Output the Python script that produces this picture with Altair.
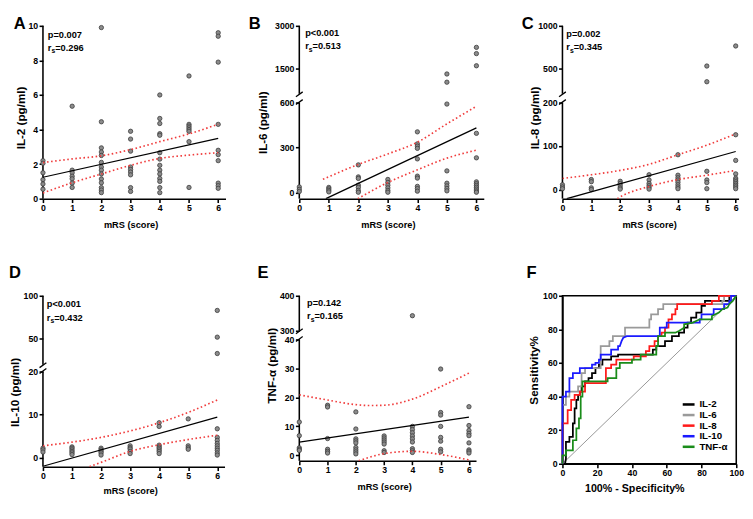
import altair as alt
import pandas as pd

FONT = "Liberation Sans"
BLACK = "#000000"
PT_FILL = "#8c8c8c"
PT_STROKE = "#3a3a3a"
CI_RED = "#f03c3c"

MRS_TICKS = [0, 1, 2, 3, 4, 5, 6]
X_TITLE = "mRS (score)"

# ---------------- Panel A : IL-2 ----------------
IL2_POINTS = {
    0: [2.2, 2.05, 1.5, 1.1, 0.85, 0.55],
    1: [5.35, 1.65, 1.5, 1.3, 1.15, 0.9, 0.65],
    2: [9.9, 4.45, 2.94, 2.7, 2.5, 2.1, 1.83, 1.65, 1.43, 1.14, 0.92, 0.64, 0.5, 0.35],
    3: [3.9, 3.45, 2.75, 1.83, 1.69, 1.54, 1.38, 0.64, 0.42],
    4: [6.0, 4.64, 4.35, 3.76, 3.67, 2.66, 2.29, 1.93, 1.65, 1.43, 1.17, 1.0, 0.64, 0.35],
    5: [7.1, 4.3, 4.2, 4.1, 4.0, 3.9, 3.3, 0.65],
    6: [9.6, 9.4, 7.9, 4.3, 2.8, 2.55, 2.2, 0.9, 0.75, 0.6],
}
IL2_TICKS = [0, 2, 4, 6, 8, 10]
IL2_FIT_X = [0, 6]
IL2_FIT_Y = [1.24, 3.49]
IL2_CI_X = [0, 1, 2, 3, 4, 5, 6]
IL2_CI_HI = [2.09, 2.3, 2.48, 2.84, 3.30, 3.75, 4.31]
IL2_CI_LO = [0.33, 0.92, 1.43, 1.93, 2.33, 2.52, 2.66]

# ---------------- Panel B : IL-6 ----------------
IL6_POINTS = {
    0: [38, 22, 8],
    1: [35, 25, 15, 5],
    2: [185, 105, 95, 50, 35, 15, 3],
    3: [88, 68, 50, 32, 15, 3],
    4: [405, 325, 310, 295, 225, 110, 97, 42, 27, 10],
    5: [1300, 1010, 590, 145, 63, 45, 28, 12],
    6: [2240, 2020, 1590, 395, 232, 72, 60, 48, 36, 24, 12, 3],
}
IL6_TICKS = [0, 300, 600, 1500, 3000]
IL6_FIT_X = [0.9, 6]
IL6_FIT_Y = [-40, 431]
IL6_CI_HI_X = [0.8, 2, 3, 4, 5, 6]
IL6_CI_HI = [89, 188, 258, 336, 458, 575]
IL6_CI_LO_X = [1.98, 3, 4, 5, 6]
IL6_CI_LO = [-40, 68, 152, 230, 283]

# ---------------- Panel C : IL-8 ----------------
IL8_POINTS = {
    0: [11, 6, 2],
    1: [23, 18, 4, 0],
    2: [19, 14, 9, 4, 1],
    3: [34, 22, 14, 9, 5, 1],
    4: [80, 33, 27, 22, 17, 11, 6, 2],
    5: [527, 342, 42, 22, 16, 2],
    6: [763, 126, 67, 36, 26, 22, 18, 14, 10, 6, 2],
}
IL8_TICKS = [0, 100, 200, 500, 1000]
IL8_FIT_X = [0.15, 6]
IL8_FIT_Y = [-21, 87.5]
IL8_CI_HI_X = [0, 1, 2, 3, 4, 5, 6]
IL8_CI_HI = [25.5, 34, 44, 58, 80, 102, 128]
IL8_CI_LO_X = [1.9, 2, 3, 4, 5, 6]
IL8_CI_LO = [-21, -17, 7, 23, 33, 44]

# ---------------- Panel D : IL-10 ----------------
IL10_POINTS = {
    0: [2.2, 1.8, 1.3],
    1: [2.5, 2.2, 1.8, 1.45, 1.1, 0.7],
    2: [2.2, 1.8, 1.45, 1.1, 0.6],
    3: [2.75, 2.3, 2.0, 1.45, 0.95],
    4: [8.1, 7.25, 2.9, 2.5, 2.2, 1.8, 1.45, 0.95],
    5: [9.0, 2.75, 2.3, 1.95],
    6: [83, 52, 33, 6.7, 4.7, 4.0, 3.3, 2.75, 2.2, 1.7, 1.1, 0.6],
}
IL10_TICKS = [0, 10, 20, 50, 100]
IL10_FIT_X = [0, 6]
IL10_FIT_Y = [-2.0, 9.4]
IL10_CI_HI_X = [0, 1, 2, 3, 4, 5, 6]
IL10_CI_HI = [2.75, 3.6, 4.7, 6.2, 8.1, 10.5, 13.4]
IL10_CI_LO_X = [1.6, 2, 3, 4, 5, 6]
IL10_CI_LO = [-2.1, -1.1, 1.45, 3.0, 4.2, 5.2]

# ---------------- Panel E : TNF-alpha ----------------
TNF_POINTS = {
    0: [11.5, 6.8, 2.6, 2.1, 1.7],
    1: [17.3, 16.7, 5.8, 2.1, 1.4, 0.8],
    2: [15, 9.1, 5.7, 5.0, 4.3, 2.7, 1.9, 1.2, 0.5],
    3: [6.7, 6.0, 5.3, 4.6, 3.9, 1.6, 1.0],
    4: [343, 10, 8.9, 7.8, 6.7, 5.7, 4.6, 2.3, 1.6, 1.0],
    5: [29.8, 14.8, 13.9, 10, 6.2, 4.9, 2.1, 1.2],
    6: [16.8, 10.3, 8.6, 7.6, 6.8, 4.3, 1.9, 1.4, 0.8],
}
TNF_TICKS = [0, 10, 20, 30, 40, 300, 400]
TNF_FIT_X = [0, 6]
TNF_FIT_Y = [4.6, 13.2]
TNF_CI_HI_X = [0, 1, 2, 2.5, 3, 4, 5, 6]
TNF_CI_HI = [20.9, 19.1, 17.5, 17.2, 17.3, 19.4, 23.7, 28.4]
TNF_CI_LO_X = [2.1, 3, 4, 5, 6]
TNF_CI_LO = [-1.9, 0.6, 1.4, 0.3, -1.6]

# ---------------- Panel F : ROC curves ----------------
ROC_NAMES = ["IL-2", "IL-6", "IL-8", "IL-10", "TNF-α"]
ROC_COLORS = ["#000000", "#9a9a9a", "#ff1a1a", "#1a1aff", "#1a8c1a"]
IL2_ROC = [(0, 0), (1.5, 0), (2, 3), (2, 13), (4, 13), (4, 16), (6, 16), (6, 24), (7, 24), (7, 33),
           (8, 33), (8, 38), (9, 38), (9, 41), (10, 41), (10, 43), (11, 43), (11, 46), (13, 46),
           (13, 49), (15, 49), (15, 51), (17, 51), (17, 54), (19, 54), (19, 57), (21, 57), (21, 59),
           (23, 59), (23, 62), (28, 62), (28, 64), (32, 64), (32, 65), (52, 65), (52, 68), (54, 68),
           (54, 70), (59, 70), (59, 73), (63, 73), (63, 76), (67, 76), (67, 78), (70, 78), (70, 81),
           (72, 81), (72, 84), (74, 84), (74, 87), (77, 87), (77, 90), (80, 90), (80, 94), (82, 94),
           (82, 97), (96, 97), (96, 100), (100, 100)]
IL6_ROC = [(0, 0), (0, 35), (2, 35), (2, 40), (4, 40), (4, 43), (9, 43), (9, 46), (11, 46), (11, 54),
           (13, 54), (13, 57), (22, 57), (22, 70), (27, 70), (27, 73), (29, 73), (29, 76), (36, 76),
           (36, 81), (50, 81), (50, 86), (51, 86), (51, 89), (55, 89), (55, 92), (58, 92), (58, 95),
           (92, 95), (92, 97), (93, 97), (93, 100), (100, 100)]
IL8_ROC = [(0, 0), (0, 24), (3, 24), (3, 32), (5, 32), (5, 38), (7, 38), (7, 41), (10, 41), (10, 43),
           (13, 43), (13, 48), (25, 48), (25, 57), (28, 57), (28, 59), (31, 59), (31, 62), (41, 62),
           (41, 64), (48, 64), (48, 67), (50, 67), (50, 70), (53, 70), (53, 73), (55, 73), (55, 76),
           (57, 76), (57, 78), (59, 78), (59, 81), (61, 81), (61, 86), (63, 86), (63, 89), (65, 89),
           (65, 92), (66, 92), (66, 95), (86, 95), (86, 97), (90, 97), (90, 100), (100, 100)]
IL10_ROC = [(0, 0), (0, 40), (2, 40), (2, 43), (4, 43), (4, 51), (6, 51), (6, 54), (10, 54), (10, 57),
            (17, 57), (17, 59), (19, 59), (19, 60), (21, 60), (21, 62), (22, 62), (22, 65), (28, 65),
            (28, 68), (32, 68), (32, 70), (33, 70), (34, 73), (35, 75), (37, 76), (56, 76), (56, 81),
            (60, 81), (60, 84), (79, 84), (79, 86), (80, 86), (80, 89), (87, 89), (87, 92), (93, 92),
            (93, 95), (96, 95), (96, 97), (97, 97), (97, 100), (100, 100)]
TNF_ROC = [(0, 0), (0, 5), (2, 5), (2, 8), (6, 8), (6, 14), (8, 14), (8, 21), (9.5, 21), (9.5, 27),
           (10.5, 27), (10.5, 40), (11.5, 40), (11.5, 49), (26, 49), (26, 51), (31, 51), (31, 57),
           (33, 57), (33, 60), (40, 60), (40, 62), (45, 62), (45, 65), (54, 65), (54, 70), (55, 70),
           (55, 76), (59, 76), (59, 78), (65, 78), (67, 79), (70, 81), (70, 83), (75, 84), (79, 86),
           (86, 86), (86, 88), (90, 90), (92, 92), (95, 93), (96, 95), (98, 97), (100, 100)]
DIAG = [0, 100]
PCT_TICKS = [0, 20, 40, 60, 80, 100]

DUMMY = pd.DataFrame({"d0": [0]})


class BrokenScale:
    """Piecewise (broken) y axis: a lower segment and an optional upper one,
    mapped to a display coordinate measured in pixels from the bottom."""

    def __init__(self, lo, Hl, gap=0, up=None, Hu=0):
        self.lo, self.Hl, self.gap, self.up, self.Hu = lo, Hl, gap, up, Hu
        self.H = Hl + (gap + Hu if up else 0)

    def pos(self, v):
        l0, l1 = self.lo
        if self.up is None or v <= l1:
            return (v - l0) / (l1 - l0) * self.Hl
        u0, u1 = self.up
        return self.Hl + self.gap + (v - u0) / (u1 - u0) * self.Hu

    def expr(self):
        l0, l1 = self.lo
        lower = f"(datum.v - ({l0})) / {l1 - l0} * {self.Hl}"
        if self.up is None:
            return lower
        u0, u1 = self.up
        upper = f"{self.Hl + self.gap} + (datum.v - ({u0})) / {u1 - u0} * {self.Hu}"
        return f"datum.v <= {l1} ? {lower} : {upper}"

    def label_expr(self):
        l0, l1 = self.lo
        lower = f"format(({l0}) + datum.value / {self.Hl} * {l1 - l0}, 'd')"
        if self.up is None:
            return lower
        u0, u1 = self.up
        upper = f"format({u0} + (datum.value - {self.Hl + self.gap}) / {self.Hu} * {u1 - u0}, 'd')"
        return f"datum.value <= {self.Hl + 0.5} ? {lower} : {upper}"

    def segments(self):
        if self.up is None:
            return pd.DataFrame({"d": [0.0], "d2": [float(self.H)]})
        return pd.DataFrame({"d": [0.0, float(self.Hl + self.gap)],
                             "d2": [float(self.Hl), float(self.H)]})


def pts_df(points):
    rows = [(m, v) for m, vals in points.items() for v in vals]
    return pd.DataFrame(rows, columns=["m", "v"])


def line_df(xs, ys):
    return pd.DataFrame({"m": xs, "v": ys})


def x_enc(W, xmax, title_y):
    return alt.X("m:Q", scale=alt.Scale(domain=[0, xmax], nice=False, zero=False), axis=alt.Axis(
        values=MRS_TICKS, title=X_TITLE, titleFontSize=9.5, titleX=3 * W / xmax,
        titleY=title_y, titleBaseline="top", titleAlign="center", labelFlush=False,
        labelOverlap=False))


def y_enc(bs, ticks, title, tx, ty):
    return alt.Y("d:Q", scale=alt.Scale(domain=[0, bs.H], nice=False, zero=False),
                 axis=alt.Axis(values=[bs.pos(t) for t in ticks], labelExpr=bs.label_expr(),
                               domain=False, title=title, titleFontSize=12, titleX=tx,
                               titleY=ty, titleAngle=270, titleBaseline="bottom",
                               titleAlign="center", labelFlush=False, labelOverlap=False))


def txt(s, dx, dy, size=9.5, align="left", baseline="alphabetic"):
    return alt.Chart(DUMMY).mark_text(
        text=s, font=FONT, fontSize=size, fontWeight="bold", color=BLACK, align=align,
        baseline=baseline).encode(x=alt.value(dx), y=alt.value(dy))


def stats_layers(p, r, dx, y1, y2):
    return [txt(p, dx, y1), txt("r", dx, y2), txt("s", dx + 3.7, y2 + 2.5, size=7),
            txt("=" + r, dx + 7.6, y2)]


def letter(s, dx, dy):
    return txt(s, dx, dy, size=17, baseline="top")


def slash(x0, y0, x1, y1):
    return alt.Chart(DUMMY).mark_rule(color=BLACK, strokeWidth=1.3).encode(
        x=alt.value(x0), y=alt.value(y0), x2=alt.value(x1), y2=alt.value(y1))


def scatter_panel(points, W, xmax, bs, ticks, ytitle, tx, ty, fit, ci_hi, ci_lo, stats, let, xty):
    x = x_enc(W, xmax, xty)
    y = y_enc(bs, ticks, ytitle, tx, ty)
    e = bs.expr()
    layers = [
        alt.Chart(bs.segments()).mark_rule(color=BLACK, strokeWidth=1.6).encode(
            x=alt.value(0), y=y, y2="d2:Q"),
        alt.Chart(pts_df(points)).transform_calculate(d=e).mark_circle(
            size=20, fill=PT_FILL, stroke=PT_STROKE, strokeWidth=0.8, opacity=1).encode(x=x, y=y),
        alt.Chart(line_df(*fit)).transform_calculate(d=e).mark_line(
            color=BLACK, strokeWidth=1.3, clip=True).encode(x=x, y=y),
    ]
    for ci in (ci_hi, ci_lo):
        layers.append(alt.Chart(line_df(*ci)).transform_calculate(d=e).mark_line(
            color=CI_RED, strokeWidth=1.7, strokeDash=[1.6, 2.6], interpolate="monotone",
            clip=True).encode(x=x, y=y))
    layers += stats_layers(*stats)
    layers.append(letter(*let))
    if bs.up is not None:
        hu = bs.Hu
        layers.append(slash(-3.5, hu + 3, 3.5, hu - 2))
        layers.append(slash(-3.5, hu + bs.gap + 2, 3.5, hu + bs.gap - 3))
    return alt.layer(*layers).properties(width=W, height=bs.H)


def spacer(w):
    return alt.Chart(DUMMY).mark_point(opacity=0, size=1).encode(
        x=alt.value(0.5), y=alt.value(0.5)).properties(width=w, height=1)


panel_a = scatter_panel(
    IL2_POINTS, 188, 6.25, BrokenScale((0, 10), 178), IL2_TICKS, "IL-2 (pg/ml)", -16, 94.4,
    (IL2_FIT_X, IL2_FIT_Y), (IL2_CI_X, IL2_CI_HI), (IL2_CI_X, IL2_CI_LO),
    ("p=0.007", "0.296", 5, 12.7, 25.8), ("A", -30, -10), 21.4)

panel_b = scatter_panel(
    IL6_POINTS, 190, 6.25, BrokenScale((-40, 600), 99, 9, (600, 3000), 70), IL6_TICKS,
    "IL-6 (pg/ml)", -31, 99.3, (IL6_FIT_X, IL6_FIT_Y), (IL6_CI_HI_X, IL6_CI_HI),
    (IL6_CI_LO_X, IL6_CI_LO), ("p<0.001", "0.513", 6, 10, 24), ("B", -52, -10), 21.4)

panel_c = scatter_panel(
    IL8_POINTS, 181.4, 6.1, BrokenScale((-21, 200), 99, 9, (200, 1000), 70), IL8_TICKS,
    "IL-8 (pg/ml)", -22, 94.4, (IL8_FIT_X, IL8_FIT_Y), (IL8_CI_HI_X, IL8_CI_HI),
    (IL8_CI_LO_X, IL8_CI_LO), ("p=0.002", "0.345", 4, 11.2, 25), ("C", -42, -10), 21.4)

panel_d = scatter_panel(
    IL10_POINTS, 187, 6.25, BrokenScale((-2.1, 20), 98, 7, (20, 100), 71), IL10_TICKS,
    "IL-10 (pg/ml)", -22.5, 99, (IL10_FIT_X, IL10_FIT_Y), (IL10_CI_HI_X, IL10_CI_HI),
    (IL10_CI_LO_X, IL10_CI_LO), ("p<0.001", "0.432", 4, 11.2, 25.5), ("D", -35, -31), 19.5)

panel_e = scatter_panel(
    TNF_POINTS, 182, 6.25, BrokenScale((-1.9, 40), 125, 9, (300, 400), 36), TNF_TICKS,
    "TNF-α (pg/ml)", -22, 71.5, (TNF_FIT_X, TNF_FIT_Y), (TNF_CI_HI_X, TNF_CI_HI),
    (TNF_CI_LO_X, TNF_CI_LO), ("p=0.142", "0.165", 8, 10.7, 24.3), ("E", -43, -31), 21.5)

# ---- Panel F : ROC ----
WF, HF = 179, 173
roc_rows = []
for name, curve in zip(ROC_NAMES, [IL2_ROC, IL6_ROC, IL8_ROC, IL10_ROC, TNF_ROC]):
    for i, (fx_, fy_) in enumerate(curve):
        roc_rows.append({"curve": name, "i": i, "fpr": fx_, "tpr": fy_})
roc_df = pd.DataFrame(roc_rows)
color_scale = alt.Scale(domain=ROC_NAMES, range=ROC_COLORS)
fx = alt.X("fpr:Q", scale=alt.Scale(domain=[0, 100], nice=False), axis=alt.Axis(
    values=PCT_TICKS, title="100% - Specificity%", titleFontSize=11, titleX=74, titleY=19.5,
    titleBaseline="top", titleAlign="center", labelFlush=False))
fy = alt.Y("tpr:Q", scale=alt.Scale(domain=[0, 100], nice=False), axis=alt.Axis(
    values=PCT_TICKS, title="Sensitivity%", titleFontSize=12, titleX=-23, titleY=76.3,
    titleAngle=270, titleBaseline="bottom", titleAlign="center", labelFlush=False))

diag = alt.Chart(pd.DataFrame({"fpr": DIAG, "tpr": DIAG})).mark_line(
    color="#8a8a8a", strokeWidth=0.9).encode(x=fx, y=fy)
curves = alt.Chart(roc_df).mark_line(strokeWidth=1.8).encode(
    x=fx, y=fy, color=alt.Color("curve:N", scale=color_scale, legend=None), order="i:Q")
leg_df = pd.DataFrame({"curve": ROC_NAMES, "k": list(range(len(ROC_NAMES)))})
leg_lines = alt.Chart(leg_df).transform_calculate(
    fpr="69.2", fpr2="76.0", tpr="35.3 - 6.3 * datum.k").mark_rule(strokeWidth=2.6).encode(
    x=fx, x2="fpr2:Q", y=fy, color=alt.Color("curve:N", scale=color_scale, legend=None))
leg_text = alt.Chart(leg_df).transform_calculate(
    fpr="78.8", tpr="35.3 - 6.3 * datum.k").mark_text(
    align="left", baseline="middle", font=FONT, fontSize=10, fontWeight="bold", color=BLACK).encode(
    x=fx, y=fy, text="curve:N")
panel_f = alt.layer(diag, curves, leg_lines, leg_text, letter("F", -37, -31)).properties(
    width=WF, height=HF, view=alt.ViewBackground(stroke=BLACK, strokeWidth=1.6))

chart = alt.concat(
    spacer(1), panel_a, spacer(76), panel_b, spacer(71), panel_c,
    spacer(6), panel_d, spacer(65), panel_e, spacer(81), panel_f,
    columns=6, spacing={"row": 100, "column": 0}, bounds="flush",
    align={"row": "each", "column": "none"},
).properties(padding=0, background="white").configure_view(stroke=None).configure_axis(
    domainColor=BLACK, domainWidth=1.6, tickColor=BLACK, tickWidth=1.6,
    tickSize=4, labelFont=FONT, labelFontSize=9, labelFontWeight="bold", labelColor=BLACK,
    labelPadding=1.5, titleFont=FONT, titleFontWeight="bold", titleColor=BLACK, grid=False)

chart.save("out.html", embed_options={"renderer": "svg", "actions": False})
